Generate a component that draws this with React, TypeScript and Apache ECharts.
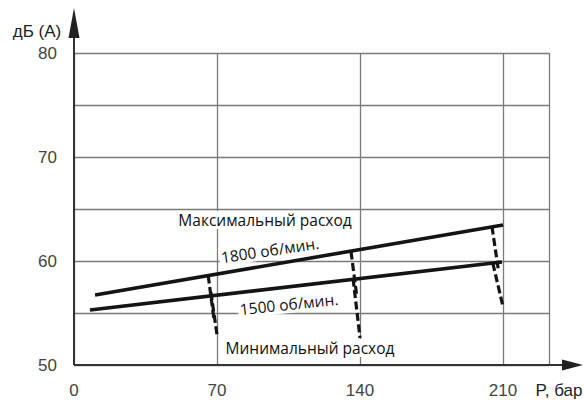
import React, { useEffect, useRef } from "react";
import * as echarts from "echarts";

const xTickLabels = [0, 70, 140, 210];
const yTickLabels = [50, 60, 70, 80];

// Pressure (bar) vs noise dB(A)
const rpm1800 = [[10.3, 56.73], [210, 63.46]];
const rpm1500 = [[7.8, 55.29], [209.5, 59.9]];

// Minimum-flow dashed markers (two parallel strokes at each pressure)
const minFlow70A = [[65.7, 58.6], [68.5, 54.4]];
const minFlow70B = [[67.0, 57.0], [70.0, 52.9]];
const minFlow140A = [[135.6, 60.9], [138.5, 56.5]];
const minFlow140B = [[136.6, 58.3], [140.0, 52.6]];
const minFlow210A = [[204.6, 63.3], [207.6, 59.3]];
const minFlow210B = [[205.0, 59.8], [210.0, 55.6]];

const dashedSets = [minFlow70A, minFlow70B, minFlow140A, minFlow140B, minFlow210A, minFlow210B];

export default function App() {
  const ref = useRef<HTMLDivElement>(null);
  useEffect(() => {
    if (!ref.current) return;
    const chart = echarts.init(ref.current, null, { renderer: "svg" });
    const lineColor = "#141414";
    const gridColor = "#7a7a7a";
    const axisColor = "#333";
    const labelFont = "Liberation Sans";
    const inFont = "Open Sans";
    const series: any[] = [
      {
        type: "line",
        data: rpm1800,
        symbol: "none",
        z: 5,
        lineStyle: { color: lineColor, width: 3.6 },
      },
      {
        type: "line",
        data: rpm1500,
        symbol: "none",
        z: 5,
        lineStyle: { color: lineColor, width: 3.6 },
      },
      ...dashedSets.map((d) => ({
        type: "line",
        data: d,
        symbol: "none",
        z: 5,
        lineStyle: { color: lineColor, width: 3.2, type: [8, 3.5] },
      })),
    ];
    const inText = (text: string, x: number, y: number, rotation = 0) => ({
      type: "text",
      x,
      y,
      rotation,
      z: 3,
      style: {
        text,
        font: `15.5px "${inFont}"`,
        fill: "#111",
        align: "center",
        verticalAlign: "middle",
        backgroundColor: "#fff",
        padding: [1, 2],
      },
    });
    chart.setOption({
      animation: false,
      grid: { left: 74, right: 35, top: 53, bottom: 35 },
      xAxis: {
        type: "value",
        min: 0,
        max: 232.5,
        interval: 70,
        axisLine: { show: false },
        axisTick: { show: false },
        axisLabel: {
          formatter: (v: number) => (xTickLabels.includes(v) ? String(v) : ""),
          fontSize: 17,
          color: "#444",
          fontFamily: labelFont,
          margin: 17,
          showMaxLabel: false,
        },
        splitLine: { show: true, lineStyle: { color: gridColor, width: 1.3 } },
      },
      yAxis: {
        type: "value",
        min: 50,
        max: 80,
        interval: 5,
        axisLine: { show: false },
        axisTick: { show: false },
        axisLabel: {
          formatter: (v: number) => (yTickLabels.includes(v) ? String(v) : ""),
          fontSize: 17,
          color: "#444",
          fontFamily: labelFont,
          margin: 17,
        },
        splitLine: { show: true, lineStyle: { color: gridColor, width: 1.3 } },
      },
      series,
      graphic: [
        // axes with arrows
        { type: "line", shape: { x1: 74, y1: 365, x2: 74, y2: 30 }, style: { stroke: axisColor, lineWidth: 2 }, z: 10 },
        { type: "polygon", shape: { points: [[74, 8], [68.5, 38], [79.5, 38]] }, style: { fill: "#222" }, z: 10 },
        { type: "line", shape: { x1: 74, y1: 365, x2: 566, y2: 365 }, style: { stroke: axisColor, lineWidth: 2 }, z: 10 },
        { type: "polygon", shape: { points: [[583, 365], [562, 359.5], [562, 370.5]] }, style: { fill: "#222" }, z: 10 },
        // axis names
        { type: "text", x: 37, y: 31, style: { text: "дБ (А)", font: `17px "${labelFont}"`, fill: "#222", align: "center", verticalAlign: "middle" }, z: 10 },
        { type: "text", x: 559, y: 390, style: { text: "P, бар", font: `17px "${labelFont}"`, fill: "#222", align: "center", verticalAlign: "middle" }, z: 10 },
        // in-chart labels
        inText("Максимальный расход", 265, 220),
        inText("1800 об/мин.", 270, 250, 0.148),
        inText("1500 об/мин.", 289, 304, 0.105),
        inText("Минимальный расход", 310, 348),
      ],
    });
    return () => chart.dispose();
  }, []);
  return <div ref={ref} style={{ width: 584, height: 400, position: "absolute", left: 0, top: 0 }} />;
}
